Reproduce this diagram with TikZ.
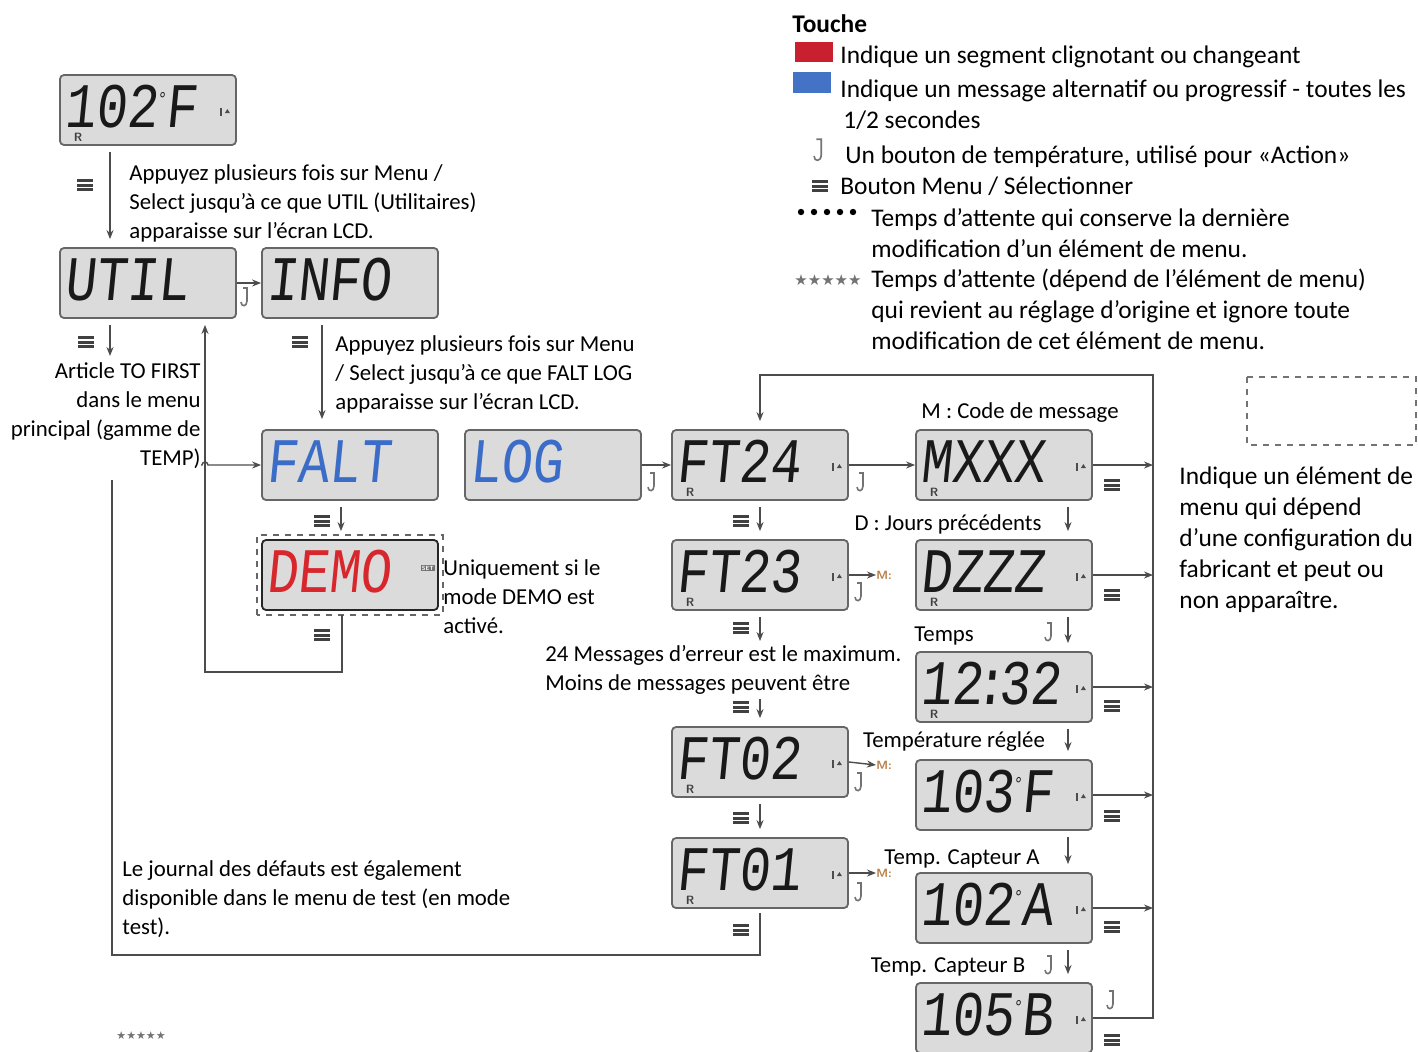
\documentclass[tikz,border=0pt]{standalone}
\usepackage{fontspec}
\usetikzlibrary{arrows.meta}
\setmainfont{Carlito}
\newfontfamily\lcdfont[FakeSlant=0.12]{Liberation Mono}
\newfontfamily\symfont{DejaVu Sans}
\newcommand\lcdh[1]{\raisebox{3.5pt}{\scalebox{1}[1.22]{#1}}}
\newcommand\lcddeg{\makebox[4pt]{\raisebox{9pt}{\fontsize{8}{8}\selectfont °}}}
\definecolor{lcdblue}{RGB}{58,108,200}
\definecolor{lcdred}{RGB}{215,38,44}
\definecolor{keyred}{RGB}{200,32,47}
\definecolor{keyblue}{RGB}{68,114,196}
\definecolor{mtagcol}{RGB}{185,125,70}

\begin{document}
\begin{tikzpicture}[x=0.5pt, y=-0.5pt,
    every node/.style={font=\fontsize{11.4}{14.5}\selectfont, inner sep=0pt},
    lcd/.style={rectangle, rounded corners=2pt, draw=black!60, fill=black!14, line width=0.9pt, minimum width=88pt, minimum height=35pt, text width=84pt, inner xsep=1pt, align=left, text=black!90, font=\lcdfont\fontsize{26}{26}\selectfont},
    rtag/.style={font=\sffamily\bfseries\fontsize{6}{6}\selectfont, text=black!75},
    note/.style={align=left, anchor=north west},
    keytext/.style={note, font=\fontsize{12.7}{15.5}\selectfont},
    mtag/.style={font=\sffamily\bfseries\fontsize{6}{6}\selectfont, text=mtagcol, anchor=west},
    stars/.style={font=\symfont\fontsize{7.5}{7.5}\selectfont, text=black!55, anchor=west},
    msg/.style={line width=0.7pt, draw=black!70, -{Stealth[length=4.5pt, width=3.5pt]}},
    link/.style={line width=0.7pt, draw=black!70},
    menukey/.pic={\foreach \d in {-4.5,0,4.5} \draw[line width=1.5pt, black!75] (-8,\d) -- (8,\d);},
    tempkey/.pic={\draw[line width=0.8pt, black!55] (-3,-9) -- (1,-9) -- (1,4) .. controls (1,10) and (-5,10) .. (-5,5);},
    tricon/.pic={\fill[black!70] (-4,-4) rectangle (-2,4); \fill[black!70] (1,1) -- (6,1) -- (3.5,-3) -- cycle;}
  ]
    \useasboundingbox (0,0) rectangle (1418,1051);

    \node[lcd] (home) at (148,110) {\lcdh{102\lcddeg F}};
    \node[lcd] (util) at (148,283) {\lcdh{UTIL}};
    \node[lcd] (info) at (350,283) {\lcdh{INFO}};
    \node[lcd, text=lcdblue] (falt) at (350,465) {\lcdh{FALT}};
    \node[lcd, text=lcdblue] (log) at (553,465) {\lcdh{LOG}};
    \node[lcd, text=lcdred, draw=black!85] (demo) at (350,575) {\lcdh{DEMO}};
    \node[lcd] (ft24) at (760,465) {\lcdh{FT24}};
    \node[lcd] (ft23) at (760,575) {\lcdh{FT23}};
    \node[lcd] (ft02) at (760,762) {\lcdh{FT02}};
    \node[lcd] (ft01) at (760,873) {\lcdh{FT01}};
    \node[lcd] (mxxx) at (1004,465) {\lcdh{MXXX}};
    \node[lcd] (dzzz) at (1004,575) {\lcdh{DZZZ}};
    \node[lcd] (tps) at (1004,687) {\lcdh{12\makebox[8pt]{:}32}};
    \node[lcd] (setp) at (1004,795) {\lcdh{103\lcddeg F}};
    \node[lcd] (capa) at (1004,908) {\lcdh{102\lcddeg A}};
    \node[lcd] (capb) at (1004,1018) {\lcdh{105\lcddeg B}};

    \draw[dashed, black!60, line width=0.8pt] ([shift={(-4,4)}]demo.south west) rectangle ([shift={(4,-4)}]demo.north east);
    \node[font=\sffamily\bfseries\fontsize{3}{3}\selectfont, fill=black!55, text=white, inner sep=0.5pt] (demoset) at ([shift={(-11,-7)}]demo.east) {SET};

    \foreach \b in {home,ft24,ft23,ft02,ft01,mxxx,dzzz,tps} \node[rtag] (\b-r) at ([shift={(19,-9)}]\b.south west) {R};
    \foreach \b in {home,ft24,ft23,ft02,ft01,mxxx,dzzz,tps,setp,capa,capb} \pic at ([shift={(-13,2)}]\b.east) {tricon};

    \node[note] (hint1) at (129,164) {Appuyez plusieurs fois sur Menu /\\Select jusqu'à ce que UTIL (Utilitaires)\\apparaisse sur l'écran LCD.};
    \node[note] (hint2) at (335,335) {Appuyez plusieurs fois sur Menu\\/ Select jusqu'à ce que FALT LOG\\apparaisse sur l'écran LCD.};
    \node[note, align=right, anchor=north east] (first) at (201,362) {Article TO FIRST\\dans le menu\\principal (gamme de\\TEMP)};
    \node[note] (demonote) at (443,559) {Uniquement si le\\mode DEMO est\\activé.};
    \node[note] (maxnote) at (545,645) {24 Messages d'erreur est le maximum.\\Moins de messages peuvent être};
    \node[note] (testnote) at (122,860) {Le journal des défauts est également\\disponible dans le menu de test (en mode\\test).};
    \node[keytext] (optnote) at (1179,466) {Indique un élément de\\menu qui dépend\\d'une configuration du\\fabricant et peut ou\\non apparaître.};

    \node (lblm) at (1020,413) {M : Code de message};
    \node (lbld) at (948,524) {D : Jours précédents};
    \node (lblt) at (944,636) {Temps};
    \node (lbls) at (954,742) {Température réglée};
    \node (lbla) at (962,859) {Temp. Capteur A};
    \node (lblb) at (948,967) {Temp. Capteur B};

    \node[mtag] (m23) at (876,575) {M:};
    \node[mtag] (m02) at (876,765) {M:};
    \node[mtag] (m01) at (876,873) {M:};

    \foreach \p in {{85,185},{86,342},{300,342},{322,521},{322,635},{741,521},{741,628},{741,707},{741,818},{741,930},{1112,485},{1112,595},{1112,706},{1112,816},{1112,927},{1112,1040},{820,186}} \pic at (\p) {menukey};
    \foreach \p in {{246,297},{653,482},{862,482},{860,592},{860,782},{860,892},{1050,632},{1050,965},{1112,1000}} \pic at (\p) {tempkey};

    \draw[msg] ([yshift=-3pt]home.south -| 110,0) -- ([yshift=4pt]util.north -| 110,0);
    \draw[msg] (util.east) -- (info.west);
    \draw[msg] ([yshift=-3pt]util.south -| 110,0) -- ([yshift=3pt]first.north -| 110,0);
    \draw[msg] ([yshift=-2pt]demo.south -| 342,0) -- (342,672) -| ([yshift=-3pt]util.south -| 205,0);
    \draw[msg] (first.east |- falt.west) -- ++(1,0) arc[start angle=180, end angle=360, radius=3] -- (falt.west);
    \draw[msg] ([yshift=-3pt]info.south -| 322,0) -- ([yshift=5pt]falt.north -| 322,0);
    \draw[msg] ([yshift=-3pt]falt.south -| 341,0) -- ([yshift=4pt]demo.north -| 341,0);
    \draw[msg] (log.east) -- (ft24.west);
    \draw[msg] (ft24.east) -- (mxxx.west);
    \draw[msg] ([yshift=-3pt]ft24.south) -- ([yshift=4pt]ft23.north);
    \draw[msg] (ft23.east) -- (m23.west);
    \draw[msg] ([yshift=-3pt]ft23.south) -- ([yshift=2pt]maxnote.north -| ft23.south);
    \draw[msg] ([yshift=-2pt]maxnote.south -| ft02.north) -- ([yshift=4pt]ft02.north);
    \draw[msg] (ft02.east) -- (m02.west);
    \draw[msg] ([yshift=-3pt]ft02.south) -- ([yshift=4pt]ft01.north);
    \draw[msg] (ft01.east) -- (m01.west);
    \coordinate (loopend) at (112,480);
    \draw[link] ([yshift=-2pt]ft01.south) -- (760,955) -| (loopend);
    \coordinate (railtop) at (1153,375);
    \draw[msg] (capb.east) -| (railtop) -| ([yshift=4pt]ft24.north);
    \foreach \b in {mxxx,dzzz,tps,setp,capa} \draw[msg] (\b.east) -- (\b.east -| railtop);
    \foreach \a/\b in {mxxx/dzzz,dzzz/tps,tps/setp,setp/capa,capa/capb} \draw[msg] ([yshift=-3pt]\a.south -| 1068,0) -- ([yshift=4pt]\b.north -| 1068,0);

    \node[keytext, font=\bfseries\fontsize{12.7}{15.5}\selectfont] (keyhead) at (792,14) {Touche};
    \node[fill=keyred, minimum width=19pt, minimum height=10pt] (keyr) at (814,52) {};
    \node[fill=keyblue, minimum width=19pt, minimum height=10.5pt] (keyb) at (812,82) {};
    \node[keytext] (key1) at (840,45) {Indique un segment clignotant ou changeant};
    \node[keytext] (key2) at (840,79) {Indique un message alternatif ou progressif - toutes les\\\hspace{1.5pt}1/2 secondes};
    \pic[scale=1.2] at (820,150) {tempkey};
    \node[keytext] (key3) at (845,145) {Un bouton de température, utilisé pour «Action»};
    \node[keytext] (key4) at (840,176) {Bouton Menu / Sélectionner};
    \foreach \i in {0,...,4} \fill (801+13*\i,212) circle (3.2);
    \node[keytext] (key5) at (871,208) {Temps d'attente qui conserve la dernière\\modification d'un élément de menu.};
    \node[stars] (keystars) at (794,280) {★★★★★};
    \node[keytext] (key6) at (871,269) {Temps d'attente (dépend de l'élément de menu)\\qui revient au réglage d'origine et ignore toute\\modification de cet élément de menu.};
    \draw[dashed, black!55, line width=0.8pt] (1247,377) rectangle (1416,445);
    \node[stars, font=\symfont\fontsize{5.5}{5.5}\selectfont] (footstars) at (116,1036) {★★★★★};
  \end{tikzpicture}
\end{document}
